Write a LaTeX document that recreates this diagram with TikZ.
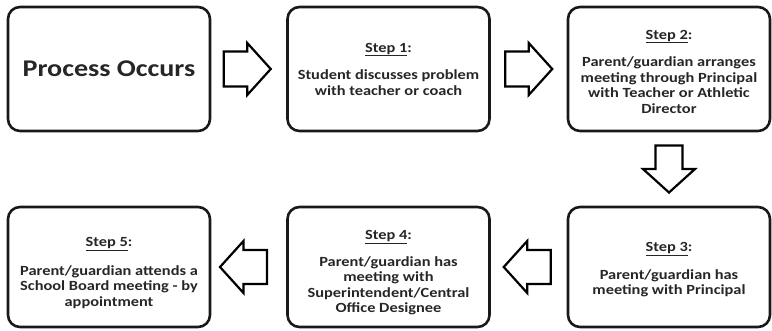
\documentclass[tikz,border=0pt]{standalone}
\usepackage{fontspec}
\setmainfont{Carlito}[FakeStretch=1.17]
\begin{document}
\begin{tikzpicture}[x=1pt,y=-1pt,
  stepbox/.style={draw=black!90, line width=2.6pt, rounded corners=12pt, rectangle,
    minimum width=202pt, minimum height=124pt},
  steptext/.style={align=center, inner sep=0pt,
    font=\bfseries\fontsize{14}{15.5}\selectfont, text=black!85},
  arrowline/.style={draw=black, line width=2.2pt, line join=miter, fill=white},
  pics/barrow/.style={code={
    \draw[arrowline] (-23.5,-#1) -- (0,-#1) -- (0,-26) -- (23.5,0) -- (0,26) -- (0,#1) -- (-23.5,#1) -- cycle;}}
]
\useasboundingbox (0,0) rectangle (772,330);
\node[stepbox] (p) at (109,69) {};
\node[stepbox] (s1) at (388.5,69) {};
\node[stepbox] (s2) at (669,69) {};
\node[stepbox, minimum height=120pt] (s3) at (669,267) {};
\node[stepbox, minimum height=120pt] (s4) at (388.5,267) {};
\node[stepbox, minimum height=120pt] (s5) at (109,267) {};
\node[steptext, font=\bfseries\fontsize{24}{28}\selectfont] (pt) at (p.center) {Process Occurs};
\node[steptext] (t1) at (s1.center) {\underline{Step 1}:\\[12pt] Student discusses problem\\ with teacher or coach};
\node[steptext, yshift=-2.5pt] (t2) at (s2.center) {\underline{Step 2}:\\[12pt] Parent/guardian arranges\\ meeting through Principal\\ with Teacher or Athletic\\ Director};
\node[steptext, yshift=-3pt] (t3) at (s3.center) {\underline{Step 3}:\\[12pt] Parent/guardian has\\ meeting with Principal};
\node[steptext, yshift=-6pt] (t4) at (s4.center) {\underline{Step 4}:\\[11pt] Parent/guardian has\\ meeting with\\ Superintendent/Central\\ Office Designee};
\node[steptext, yshift=-6pt] (t5) at (s5.center) {\underline{Step 5}:\\[13pt] Parent/guardian attends a\\ School Board meeting - by\\ appointment};
\path (p.east) -- (s1.west) coordinate[pos=0.48] (a1);
\path (s1.east) -- (s2.west) coordinate[pos=0.5] (a2);
\path (s2.south) -- (s3.north) coordinate[pos=0.5] (a3);
\path (s3.west) -- (s4.east) coordinate[pos=0.52] (a4);
\path (s4.west) -- (s5.east) coordinate[pos=0.57] (a5);
\pic at (a1) {barrow=17.5};
\pic at (a2) {barrow=17.5};
\pic[rotate=-90] at (a3) {barrow=13.5};
\pic[rotate=180] at (a4) {barrow=17};
\pic[rotate=180] at (a5) {barrow=17};
\end{tikzpicture}
\end{document}
